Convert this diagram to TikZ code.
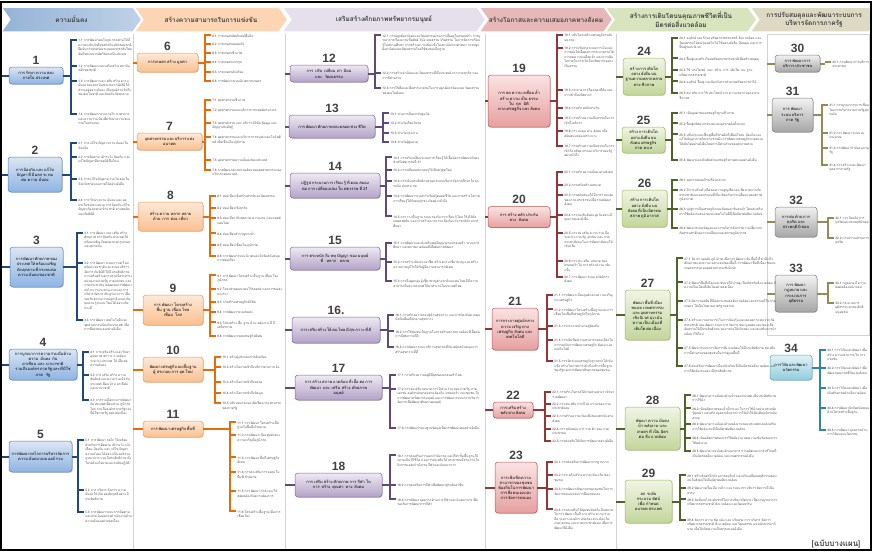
\documentclass[tikz,border=0pt]{standalone}
\usepackage{fontspec}
\setmainfont{Loma}[Script=Thai]
\setsansfont{Liberation Sans}
\usetikzlibrary{positioning, shapes.symbols, shadows}
\XeTeXlinebreaklocale "th"
\XeTeXlinebreakskip=0pt plus 1pt

\definecolor{blutop}{HTML}{DCE6F2}\definecolor{blubot}{HTML}{8EB4E3}\definecolor{bluln}{HTML}{4F81BD}\definecolor{blubr}{HTML}{1F497D}
\definecolor{orgtop}{HTML}{FDE9D9}\definecolor{orgbot}{HTML}{FAC090}\definecolor{orgln}{HTML}{F79646}\definecolor{orgbr}{HTML}{E46C0A}
\definecolor{purtop}{HTML}{EEEAF3}\definecolor{purbot}{HTML}{B3A2C7}\definecolor{purln}{HTML}{8064A2}\definecolor{purbr}{HTML}{5F497A}
\definecolor{pnktop}{HTML}{FBE3E3}\definecolor{pnkbot}{HTML}{E6A0A0}\definecolor{pnkln}{HTML}{C0504D}\definecolor{pnkbr}{HTML}{943634}
\definecolor{grntop}{HTML}{F0F5E4}\definecolor{grnbot}{HTML}{C3D69B}\definecolor{grnln}{HTML}{9BBB59}\definecolor{grnbr}{HTML}{4F6228}
\definecolor{grytop}{HTML}{F2F2F2}\definecolor{grybot}{HTML}{A6A6A6}\definecolor{gryln}{HTML}{7F7F7F}\definecolor{grybr}{HTML}{948A54}
\definecolor{teatop}{HTML}{E3F2F7}\definecolor{teabot}{HTML}{93CDDD}\definecolor{tealn}{HTML}{4BACC6}\definecolor{teabr}{HTML}{31859C}
\definecolor{hdra}{HTML}{95B3D7}\definecolor{hdrb}{HTML}{FCD5B4}\definecolor{hdrc}{HTML}{E6E0EC}
\definecolor{hdrd}{HTML}{E6B9B8}\definecolor{hdre}{HTML}{D7E4BD}\definecolor{hdrf}{HTML}{DDD9C3}
\definecolor{leafgray}{HTML}{4A4A4A}\definecolor{numgray}{HTML}{404040}

\newcommand\leaffont{\fontsize{3.2}{4.5}\selectfont}
\newcommand\boxfont{\fontsize{4}{5.2}\selectfont}
\newcommand\numfont{\sffamily\bfseries\fontsize{12}{12}\selectfont}
\newcommand\hdrfont{\bfseries\fontsize{6.5}{8}\selectfont}

\newcommand\branch[5]{%
  \draw[#2] (#1.east) -- (#3,0 |- #1.east);
  \foreach \y/\txt [count=\i] in {#5} {
    \ifnum\i=1 \xdef\ytop{\y}\fi
    \xdef\ybot{\y}
    \draw[#2] (#3,\y) -- ++(6,0) node[leaf, text width=#4] (#1-\i) {\txt};
  }
  \draw[#2, line cap=rect] (#3,\ytop) -- (#3,\ybot);
}

\begin{document}
\begin{tikzpicture}[x=1pt, y=-1pt, label distance=2pt,
    hdr/.style={signal, signal to=east, signal from=west, signal pointer angle=110,
      minimum height=25, draw=white, line width=1.5pt, font=\hdrfont, text=numgray, align=center, inner sep=1pt},
    bx/.style={rounded corners=3pt, line width=0.5pt, align=center, font=\boxfont, inner sep=1pt,
      drop shadow={opacity=0.3, shadow xshift=0.8pt, shadow yshift=-0.8pt}},
    bbox/.style={bx, draw=bluln, top color=blutop, bottom color=blubot},
    obox/.style={bx, draw=orgln, top color=orgtop, bottom color=orgbot},
    pbox/.style={bx, draw=purln, top color=purtop, bottom color=purbot},
    rbox/.style={bx, draw=pnkln, top color=pnktop, bottom color=pnkbot},
    gbox/.style={bx, draw=grnln, top color=grntop, bottom color=grnbot},
    kbox/.style={bx, draw=gryln, top color=grytop, bottom color=grybot},
    tbox/.style={bx, draw=tealn, top color=teatop, bottom color=teabot},
    bbr/.style={draw=blubr, line width=2pt},
    obr/.style={draw=orgbr, line width=2pt},
    pbr/.style={draw=purbr, line width=2pt},
    rbr/.style={draw=pnkbr, line width=2pt},
    gbr/.style={draw=grnbr, line width=2pt},
    kbr/.style={draw=grybr, line width=2pt},
    tbr/.style={draw=teabr, line width=2pt},
    leaf/.style={anchor=north west, yshift=2.6pt, inner sep=0.3pt, font=\leaffont, text=leafgray, align=left},
    num/.style={font=\numfont, text=numgray, inner sep=0pt},
    sepl/.style={draw=gray!35, line width=0.6pt}
  ]
\useasboundingbox (0,0) rectangle (872,552);

\node[hdr, fill=hdrf, minimum width=128] (h6) at (814,19.5) {การปรับสมดุลและพัฒนาระบบการ\\บริหารจัดการภาครัฐ};
\node[hdr, fill=hdre, minimum width=152] (h5) at (681,19.5) {สร้างการเติบโตบนคุณภาพชีวิตที่เป็น\\มิตรต่อสิ่งแวดล้อม};
\node[hdr, fill=hdrd, minimum width=134] (h4) at (546,19.5) {สร้างโอกาสและความเสมอภาคทางสังคม};
\node[hdr, fill=hdrc, minimum width=204] (h3) at (384,19.5) {เสริมสร้างศักยภาพทรัพยากรมนุษย์};
\node[hdr, fill=hdrb, minimum width=154] (h2) at (211,19.5) {สร้างความสามารถในการแข่งขัน};
\node[hdr, left color=hdra, right color=hdra!60, minimum width=141] (h1) at (71.5,19.5) {ความมั่นคง};

\draw[sepl] (133,34) -- (133,549);
\draw[sepl] (285,34) -- (285,549);
\draw[sepl] (485,34) -- (485,549);
\draw[sepl] (616,34) -- (616,549);
\draw[sepl] (767,34) rectangle (869,335);

\node[bbox, minimum width=54, minimum height=17, text width=48, label={[num]above:1}] (b1) at (36,75.5) {การรักษาความสงบ\\ภายในประเทศ};
\node[bbox, minimum width=54, minimum height=35, text width=48, label={[num]above:2}] (b2) at (35,174.5) {การป้องกันและแก้ไข\\ปัญหาที่มีผลกระทบ\\ต่อความมั่นคง};
\node[bbox, minimum width=53, minimum height=40, text width=48, label={[num]above:3}] (b3) at (36.5,267) {การพัฒนาศักยภาพของ\\ประเทศให้พร้อมเผชิญ\\ภัยคุกคามที่กระทบต่อ\\ความมั่นคงของชาติ};
\node[bbox, minimum width=68, minimum height=31, text width=62, label={[num]above:4}] (b4) at (43,364.5) {การบูรณาการความร่วมมือด้าน\\ความมั่นคงกับอาเซียนและนานาชาติ\\รวมถึงองค์กรภาครัฐและที่มิใช่\\ภาครัฐ};
\node[bbox, minimum width=63, minimum height=31, text width=58, label={[num]above:5}] (b5) at (40.5,456.5) {การพัฒนากลไกการบริหารจัดการ\\ความมั่นคงแบบองค์รวม};

\node[obox, minimum width=61, minimum height=19, text width=56, label={[num]above:6}] (b6) at (167.5,62.5) {การเกษตรสร้างมูลค่า};
\node[obox, minimum width=65, minimum height=17, text width=60, label={[num]above:7}] (b7) at (169.5,141.5) {อุตสาหกรรมและบริการแห่ง\\อนาคต};
\node[obox, minimum width=65, minimum height=29, text width=60, label={[num]above:8}] (b8) at (170.5,216.5) {สร้างความหลากหลาย\\ด้านการท่องเที่ยว};
\node[obox, minimum width=60, minimum height=30, text width=55, label={[num]above:9}] (b9) at (173,310) {การพัฒนาโครงสร้าง\\พื้นฐาน เชื่อมไทย\\เชื่อมโลก};
\node[obox, minimum width=60, minimum height=25, text width=56, label={[num]above:10}] (b10) at (173,369.5) {พัฒนาเศรษฐกิจบนพื้นฐาน\\ผู้ประกอบการยุคใหม่};
\node[obox, minimum width=60, minimum height=16, text width=56, label={[num]above:11}] (b11) at (173,429) {การพัฒนาเศรษฐกิจพื้นที่};

\node[pbox, minimum width=78, minimum height=17, text width=72, label={[num]above:12}] (b12) at (329,73.5) {การปรับเปลี่ยนค่านิยม\\และวัฒนธรรม};
\node[pbox, minimum width=86, minimum height=23, text width=80, label={[num]above:13}] (b13) at (332,126.5) {การพัฒนาศักยภาพคนตลอดช่วงชีวิต};
\node[pbox, minimum width=90, minimum height=25, text width=84, label={[num]above:14}] (b14) at (335,185.5) {ปฏิรูปกระบวนการเรียนรู้ที่ตอบสนอง\\ต่อการเปลี่ยนแปลงในศตวรรษที่ 21};
\node[pbox, minimum width=90, minimum height=23, text width=84, label={[num]above:15}] (b15) at (335,258.5) {การตระหนักถึงพหุปัญญาของมนุษย์\\ที่หลากหลาย};
\node[pbox, minimum width=88, minimum height=26, text width=82, label={[num]above:16.}] (b16) at (336,330) {การเสริมสร้างให้คนไทยมีสุขภาวะที่ดี};
\node[pbox, minimum width=87, minimum height=25, text width=82, label={[num]above:17}] (b17) at (338.5,387.5) {การสร้างสภาพแวดล้อมที่เอื้อต่อการ\\พัฒนาและเสริมสร้างศักยภาพ\\มนุษย์};
\node[pbox, minimum width=87, minimum height=24, text width=82, label={[num]above:18}] (b18) at (338.5,485) {การเสริมสร้างศักยภาพการกีฬาใน\\การสร้างคุณค่าทางสังคม};

\node[rbox, minimum width=62, minimum height=52, text width=56, label={[num]above:19}] (b19) at (519,101) {การลดความเหลื่อมล้ำ\\สร้างความเป็นธรรม\\ในทุกมิติ\\ทางเศรษฐกิจและสังคม};
\node[rbox, minimum width=62, minimum height=21, text width=56, label={[num]above:20}] (b20) at (519,217) {การสร้างหลักประกัน\\ทางสังคม};
\node[rbox, minimum width=46, minimum height=42, text width=42, label={[num]above:21}] (b21) at (515,329) {การกระจายศูนย์กลาง\\ความเจริญทาง\\เศรษฐกิจ สังคม และ\\เทคโนโลยี};
\node[rbox, minimum width=40, minimum height=16, text width=36, label={[num]above:22}] (b22) at (513,410) {การเสริมสร้าง\\พลังทางสังคม};
\node[rbox, minimum width=42, minimum height=51, text width=38, label={[num]above:23}] (b23) at (516,487.5) {การเพิ่มขีดความ\\สามารถของชุมชน\\ท้องถิ่นในการพัฒนา\\การพึ่งตนเองและ\\การจัดการตนเอง};

\node[gbox, minimum width=42, minimum height=37, text width=38, label={[num]above:24}] (b24) at (644,76.5) {สร้างการเติบโต\\อย่างยั่งยืนบน\\ฐานความหลากหลาย\\ทางชีวภาพ};
\node[gbox, minimum width=43, minimum height=26, text width=39, label={[num]above:25}] (b25) at (643.5,140) {สร้างการเติบโต\\อย่างยั่งยืนบน\\สังคมเศรษฐกิจ\\ภาคทะเล};
\node[gbox, minimum width=45, minimum height=37, text width=41, label={[num]above:26}] (b26) at (644.5,208.5) {สร้างการเติบโต\\อย่างยั่งยืนบน\\สังคมที่เป็นมิตรต่อ\\สภาพภูมิอากาศ};
\node[gbox, minimum width=45, minimum height=50, text width=41, label={[num]above:27}] (b27) at (647.5,315) {พัฒนาพื้นที่เมือง\\ชนบท เกษตรกรรม\\และอุตสาหกรรม\\เชิงนิเวศ มุ่งเน้น\\ความเป็นเมืองที่\\เติบโตต่อเนื่อง};
\node[gbox, minimum width=55, minimum height=43, text width=50, label={[num]above:28}] (b28) at (652.5,428.5) {พัฒนาความมั่นคง\\น้ำ พลังงาน และ\\เกษตรที่เป็นมิตร\\ต่อสิ่งแวดล้อม};
\node[gbox, minimum width=47, minimum height=43, text width=43, label={[num]above:29}] (b29) at (648.5,501.5) {ยกระดับ\\กระบวนทัศน์\\เพื่อกำหนด\\อนาคตประเทศ};

\node[kbox, minimum width=45, minimum height=17, text width=41, label={[num]above:30}] (b30) at (797.5,63.5) {การพัฒนาการ\\บริการประชาชน};
\node[kbox, minimum width=41, minimum height=34, text width=37, label={[num]above:31}] (b31) at (792.5,115) {การพัฒนา\\ระบบบริหาร\\ภาครัฐ};
\node[kbox, minimum width=42, minimum height=30, text width=38, label={[num]above:32}] (b32) at (796,222) {การต่อต้านการ\\ทุจริตและ\\ประพฤติมิชอบ};
\node[kbox, minimum width=42, minimum height=37, text width=38, label={[num]above:33}] (b33) at (796,293.5) {การพัฒนา\\กฎหมายและ\\กระบวนการ\\ยุติธรรม};
\node[tbox, minimum width=42, minimum height=25, text width=38, label={[num]above:34}] (b34) at (791,367.5) {การวิจัยและพัฒนา\\นวัตกรรม};

\foreach \b in {b1,b2,b3,b4,b5} \draw[bbr] (\b.west) -- (2,0 |- \b.west);
\foreach \b in {b6,b7,b8,b9,b10,b11} \draw[obr] (\b.west) -- (133,0 |- \b.west);
\foreach \b in {b12,b13,b14,b15,b16,b17,b18} \draw[pbr] (\b.west) -- (285,0 |- \b.west);
\foreach \b in {b19,b20,b21,b22,b23} \draw[rbr] (\b.west) -- (485,0 |- \b.west);
\foreach \b in {b24,b25,b26,b27,b28,b29} \draw[gbr] (\b.west) -- (616,0 |- \b.west);
\foreach \b in {b30,b31,b32,b33} \draw[kbr] (\b.west) -- (767,0 |- \b.west);

\branch{b1}{bbr}{71}{54}{40/{1.1 การพัฒนาคนในทุกภาคส่วนให้มีความจงรักภักดีต่อสถาบันหลักของชาติ ยึดมั่นการปกครองระบอบประชาธิปไตยอันมีพระมหากษัตริย์ทรงเป็นประมุข}, 66/{1.2 การพัฒนาและเสริมสร้างสถาบันหลักของชาติ}, 81/{1.3 การพัฒนาและเสริมสร้างความมั่นคงของสถาบันพระมหากษัตริย์ให้ดำรงอยู่อย่างมั่นคง เป็นศูนย์รวมจิตใจของคนในชาติ และป้องกันภัยคุกคาม}, 114/{1.4 การพัฒนาระบบ กลไก มาตรการ และความร่วมมือเพื่อรักษาความสงบภายในประเทศ}}
\branch{b2}{bbr}{71}{54}{143/{2.1 การแก้ไขปัญหาความมั่นคงในปัจจุบัน}, 157/{2.2 การติดตาม เฝ้าระวัง ป้องกัน และแก้ไขปัญหาที่อาจอุบัติขึ้นใหม่}, 179/{2.3 การแก้ไขปัญหาความไม่สงบในจังหวัดชายแดนภาคใต้อย่างยั่งยืน}, 200/{2.4 การรักษาความมั่นคงและผลประโยชน์ทางทะเล การป้องกันแก้ไขปัญหาภัยคุกคามข้ามชาติ ยาเสพติด และภัยพิบัติ}}
\branch{b3}{bbr}{77}{48}{233/{3.1 การพัฒนาและเสริมสร้างศักยภาพการป้องกันประเทศให้พร้อมเผชิญภัยคุกคามทุกรูปแบบและทุกระดับ}, 263/{3.2 การพัฒนาระบบการเตรียมพร้อมแห่งชาติและระบบบริหารจัดการภัยพิบัติให้มีประสิทธิภาพ การเสริมสร้างความร่วมมือระหว่างหน่วยงานภาครัฐ ภาคเอกชน และภาคประชาชน ตลอดจนการพัฒนากลไกการประสานงานและการบริหารจัดการเชิงบูรณาการ เพื่อรองรับสถานการณ์ฉุกเฉินและภัยคุกคามรูปแบบใหม่ได้อย่างทันท่วงที}, 320/{3.3 การพัฒนาเทคโนโลยีและอุตสาหกรรมป้องกันประเทศ เพื่อการพึ่งพาตนเองอย่างยั่งยืน}}
\branch{b4}{bbr}{83}{42}{352/{4.1 การเสริมสร้างและรักษาดุลยภาพสภาวะแวดล้อมระหว่างประเทศ ให้เอื้อต่อความมั่นคง}, 375/{4.2 การเสริมสร้างความสัมพันธ์และความร่วมมือกับประเทศเพื่อนบ้าน อาเซียน และนานาชาติ}, 400/{4.3 การร่วมมือทางการพัฒนากับประเทศเพื่อนบ้าน ภูมิภาค โลก รวมถึงองค์กรภาครัฐและที่มิใช่ภาครัฐ อย่างต่อเนื่อง}}
\branch{b5}{bbr}{78}{47}{440/{5.1 การพัฒนากลไกให้พร้อมสำหรับการติดตาม เฝ้าระวัง แจ้งเตือน ป้องกัน และแก้ไขปัญหาความมั่นคงได้อย่างเป็นองค์รวม บูรณาการ และมีประสิทธิภาพ ทั้งในระดับนโยบายและระดับปฏิบัติ}, 490/{5.2 การบริหารจัดการความมั่นคงให้เกิดผลสัมฤทธิ์อย่างมีประสิทธิภาพ}, 512/{5.3 การพัฒนาระบบการติดตามและประเมินผลการดำเนินงานด้านความมั่นคงอย่างต่อเนื่อง}}

\branch{b6}{obr}{205}{70}{35/{6.1 การเกษตรอัตลักษณ์พื้นถิ่น}, 44/{6.2 การเกษตรปลอดภัย}, 53/{6.3 การเกษตรชีวภาพ}, 62/{6.4 การเกษตรแปรรูป}, 72/{6.5 การเกษตรอัจฉริยะ}, 81/{6.6 การพัฒนาระบบนิเวศการเกษตร}}
\branch{b7}{obr}{205}{70}{100/{7.1 อุตสาหกรรมชีวภาพ}, 110/{7.2 อุตสาหกรรมและบริการการแพทย์ครบวงจร}, 123/{7.3 อุตสาหกรรมและบริการดิจิทัล ข้อมูล และปัญญาประดิษฐ์}, 137/{7.4 อุตสาหกรรมและบริการการขนส่งและโลจิสติกส์ เพื่อเชื่อมโยงภูมิภาค}, 160/{7.5 อุตสาหกรรมความมั่นคงของประเทศ}, 170/{7.6 การพัฒนาสภาพแวดล้อมของอุตสาหกรรมและบริการแห่งอนาคต}}
\branch{b8}{obr}{210}{65}{196/{8.1 ท่องเที่ยวเชิงสร้างสรรค์และวัฒนธรรม}, 208/{8.2 ท่องเที่ยวเชิงธุรกิจ}, 218/{8.3 ท่องเที่ยวเชิงสุขภาพ ความงาม และแพทย์แผนไทย}, 233/{8.4 ท่องเที่ยวสำราญทางน้ำ}, 245/{8.5 ท่องเที่ยวเชื่อมโยงภูมิภาค}, 256/{8.6 การพัฒนาระบบนิเวศและปัจจัยสนับสนุนการท่องเที่ยว}}
\branch{b9}{obr}{210}{65}{275/{9.1 การพัฒนาโครงสร้างพื้นฐานเชื่อมโยงภูมิภาค}, 289/{9.2 โครงข่ายคมนาคมไร้รอยต่อ และการขนส่งทางราง}, 302/{9.3 การสร้างเศรษฐกิจดิจิทัล}, 312/{9.4 การพัฒนาระบบขนส่ง}, 322/{9.5 โครงสร้างพื้นฐานด้านพลังงานที่มีเสถียรภาพ}, 336/{9.6 การพัฒนาเขตเศรษฐกิจพิเศษ}}
\branch{b10}{obr}{215}{60}{357/{10.1 สร้างผู้ประกอบการอัจฉริยะ}, 367/{10.2 สร้างโอกาสเข้าถึงบริการทางการเงิน}, 382/{10.3 สร้างโอกาสเข้าถึงตลาด}, 393/{10.4 สร้างโอกาสเข้าถึงข้อมูล}, 403/{10.5 ปรับบทบาทและเพิ่มขีดความสามารถของภาครัฐ}}
\branch{b11}{obr}{230}{45}{422/{11.1 การพัฒนาโครงสร้างพื้นฐานในพื้นที่เป้าหมาย}, 435/{11.2 การพัฒนาเมืองศูนย์กลางความเจริญในภูมิภาค}, 457/{11.3 การพัฒนาพื้นที่เศรษฐกิจพิเศษ}, 472/{11.4 การส่งเสริมการลงทุนในพื้นที่เป้าหมาย}, 491/{11.5 การพัฒนากำลังคนให้สอดคล้องกับความต้องการ}, 511/{11.6 โครงสร้างพื้นฐานเพื่อการเชื่อมโยง}}

\branch{b12}{pbr}{375}{98}{35/{12.1 การปลูกฝังค่านิยมและวัฒนธรรมผ่านการเลี้ยงดูในครอบครัว การบูรณาการเรื่องความซื่อสัตย์ วินัย คุณธรรม จริยธรรม ในการจัดการเรียนรู้ในสถานศึกษา การสร้างความเข้มแข็งในสถาบันทางศาสนา การปลูกฝังค่านิยมและวัฒนธรรมโดยใช้ชุมชนเป็นฐาน}, 73/{12.2 การสร้างค่านิยมและวัฒนธรรมที่พึงประสงค์จากภาคธุรกิจ และการมีส่วนร่วม}, 88/{12.3 การใช้สื่อและสื่อสารมวลชนในการปลูกฝังค่านิยมและวัฒนธรรมของคนในสังคม}}
\branch{b13}{pbr}{383}{90}{113/{13.1 ช่วงการตั้งครรภ์ปฐมวัย}, 123/{13.2 ช่วงวัยเรียนวัยรุ่น}, 133/{13.3 ช่วงวัยแรงงาน}, 142/{13.4 ช่วงวัยผู้สูงอายุ}}
\branch{b14}{pbr}{386}{87}{157/{14.1 การปรับเปลี่ยนระบบการเรียนรู้ให้เอื้อต่อการพัฒนาทักษะสำหรับศตวรรษที่ 21}, 170/{14.2 การเปลี่ยนบทบาทครูให้เป็นครูยุคใหม่}, 181/{14.3 การเพิ่มประสิทธิภาพของระบบบริหารจัดการศึกษาในทุกระดับ ทุกประเภท}, 196/{14.4 การพัฒนาระบบการเรียนรู้ตลอดชีวิต และการสร้างโอกาสการเรียนรู้ให้กับคนทุกช่วงวัยอย่างทั่วถึง}, 216/{14.5 การวางพื้นฐานระบบรองรับการเรียนรู้โดยใช้ดิจิทัลแพลตฟอร์ม และการสร้างความร่วมมือกับนานาชาติด้านการศึกษา}}
\branch{b15}{pbr}{386}{87}{243/{15.1 การพัฒนาและส่งเสริมพหุปัญญาผ่านครอบครัว ระบบการศึกษา และสภาพแวดล้อมที่เอื้อต่อการพัฒนา}, 262/{15.2 การสร้างเส้นทางอาชีพ สร้างความเชี่ยวชาญ และสร้างความภาคภูมิใจให้กับผู้มีความสามารถพิเศษ}, 281/{15.3 การดึงดูดกลุ่มผู้เชี่ยวชาญต่างชาติและคนไทยที่มีความสามารถในต่างประเทศให้มาทำงานในประเทศไทย}}
\branch{b16}{pbr}{388}{85}{315/{16.1 การสร้างความรอบรู้ด้านสุขภาวะ และการป้องกันควบคุมปัจจัยเสี่ยงที่คุกคามสุขภาวะ}, 331/{16.2 การใช้ชุมชนเป็นฐานในการสร้างสภาพแวดล้อมที่เอื้อต่อการมีสุขภาวะที่ดี}, 347/{16.3 การพัฒนาระบบบริการสุขภาพที่ทันสมัยสนับสนุนการสร้างสุขภาวะที่ดี}}
\branch{b17}{pbr}{390}{83}{375/{17.1 การสร้างความอยู่ดีมีสุขของครอบครัวไทย}, 389/{17.2 การส่งเสริมบทบาทการมีส่วนร่วมของภาครัฐ ภาคเอกชน องค์กรปกครองส่วนท้องถิ่น ครอบครัว และชุมชน ในการพัฒนาทรัพยากรมนุษย์ และการพัฒนาระบบการบริหารจัดการเพื่อพัฒนาศักยภาพมนุษย์}, 428/{17.3 การพัฒนาระบบฐานข้อมูลเพื่อการพัฒนาคนอย่างยั่งยืน}}
\branch{b18}{pbr}{390}{83}{455/{18.1 การส่งเสริมการออกกำลังกาย และกีฬาขั้นพื้นฐานให้กลายเป็นวิถีชีวิต และการส่งเสริมให้ประชาชนมีส่วนร่วมในกิจกรรมออกกำลังกาย กีฬาและนันทนาการ}, 485/{18.2 การส่งเสริมการกีฬาเพื่อพัฒนาสู่ระดับอาชีพ}, 499/{18.3 การพัฒนาบุคลากรด้านการกีฬาและนันทนาการเพื่อรองรับการพัฒนาการกีฬา}}

\branch{b19}{rbr}{557}{50}{35/{19.1 ปรับโครงสร้างเศรษฐกิจระดับมหภาค}, 48/{19.2 การปรับปรุงระบบการเงินและการคลังให้เอื้อต่อการกระจายรายได้ การลดความเหลื่อมล้ำ และการเพิ่มโอกาสในการเข้าถึงทรัพยากรอย่างเป็นธรรม}, 90/{19.3 กระจายการถือครองที่ดินและการเข้าถึงทรัพยากร}, 108/{19.4 การสร้างหลักประกัน}, 118/{19.5 การสร้างความเป็นธรรมในการเข้าถึงบริการ}, 131/{19.6 การลงทุนทางสังคมเพื่อสนับสนุนกลุ่มเปราะบาง}, 146/{19.7 การสร้างความเป็นธรรมในการเข้าถึงทรัพยากรและบริการของรัฐอย่างทั่วถึง}}
\branch{b20}{rbr}{557}{50}{172/{20.1 การสร้างความมั่นคงทางสังคม}, 185/{20.2 การเสริมสร้างบทบาท}, 195/{20.3 การสนับสนุนให้มีการรวมกลุ่มของภาคประชาชนเพื่อร่วมพัฒนาสังคม}, 215/{20.4 การรองรับสังคมสูงวัยอย่างมีคุณภาพและยั่งยืน}, 233/{20.5 การส่งเสริมความร่วมมือระหว่างภาครัฐ เอกชน และภาคประชาสังคมในการพัฒนาสังคมให้เข้มแข็ง}, 261/{20.6 การส่งเสริมบทบาทของครอบครัวในการสร้างความเข้มแข็ง}, 277/{20.7 การพัฒนาระบบสวัสดิการสังคม}}
\branch{b21}{rbr}{547}{60}{295/{21.1 การพัฒนาเมืองศูนย์กลางความเจริญทางเศรษฐกิจ}, 309/{21.2 การพัฒนาโครงสร้างพื้นฐานและการเชื่อมโยงพื้นที่เศรษฐกิจในภูมิภาค}, 326/{21.3 การกระจายอำนาจสู่ท้องถิ่น}, 340/{21.4 การเพิ่มขีดความสามารถของเมืองในการรองรับการพัฒนาเศรษฐกิจ สังคม และเทคโนโลยี}, 361/{21.5 การจัดระบบเศรษฐกิจฐานรากให้เข้มแข็ง สร้างโอกาสการเข้าถึงบริการพื้นฐานของรัฐและการพัฒนาศักยภาพของชุมชน}}
\branch{b22}{rbr}{545}{62}{392/{22.1 การสร้างโอกาสให้ภาคส่วนต่างๆ เข้ามาร่วมพัฒนา}, 404/{22.2 การส่งเสริมการมีส่วนร่วมของภาคประชาสังคม}, 416/{22.3 การสร้างความเข้มแข็งของสถาบันทางสังคม}, 429/{22.4 การสนับสนุนการรวมตัวของภาคประชาชน}, 441/{22.5 การส่งเสริมให้เกิดการพัฒนาอย่างยั่งยืน}}
\branch{b23}{rbr}{547}{60}{462/{23.1 การส่งเสริมการพัฒนาจากฐานราก}, 475/{23.2 การเสริมสร้างความเข้มแข็งของชุมชน}, 489/{23.3 การพัฒนาศักยภาพของชุมชนในการจัดการตนเองและการพึ่งพาตนเอง}, 509/{23.4 การส่งเสริมให้ชุมชนท้องถิ่นมีบทบาทในการพัฒนาพื้นที่ การสร้างความร่วมมือระหว่างองค์กรปกครองส่วนท้องถิ่น ภาคเอกชน และภาคประชาสังคม เพื่อการพัฒนาที่ยั่งยืน}}

\branch{b24}{gbr}{672}{84}{38/{24.1 อนุรักษ์และรักษาทรัพยากรธรรมชาติ สิ่งแวดล้อม และวัฒนธรรมให้คนรุ่นต่อไปได้ใช้อย่างยั่งยืน มีสมดุล และการฟื้นฟูระบบนิเวศ}, 58/{24.2 ฟื้นฟูและสร้างใหม่ทรัพยากรธรรมชาติเพื่อสร้างสมดุล}, 70/{24.3 ใช้ประโยชน์และสร้างการเติบโตบนฐานทรัพยากรธรรมชาติ}, 81/{24.4 อนุรักษ์ ฟื้นฟู และป้องกันการทำลายทรัพยากรป่าไม้}, 93/{24.5 ส่งเสริมการใช้ประโยชน์จากความหลากหลายทางชีวภาพ}}
\branch{b25}{gbr}{672}{84}{113/{25.1 เพิ่มมูลค่าของเศรษฐกิจฐานชีวภาพ}, 123/{25.2 ฟื้นฟูทรัพยากรทางทะเลและชายฝั่งทั้งระบบ}, 134/{25.3 ปรับปรุงและฟื้นฟูพื้นที่ชายฝั่งที่เสื่อมโทรม ป้องกันและแก้ไขปัญหาการกัดเซาะชายฝั่ง การพัฒนาเศรษฐกิจภาคทะเลให้เติบโตอย่างยั่งยืนโดยการมีส่วนร่วมของทุกภาคส่วน}, 160/{25.4 พัฒนาและเพิ่มสัดส่วนเศรษฐกิจภาคทะเลอย่างยั่งยืน}}
\branch{b26}{gbr}{672}{84}{180/{26.1 ลดการปล่อยก๊าซเรือนกระจก}, 190/{26.2 มีการปรับตัวเพื่อลดความสูญเสียและเสียหายจากภัยธรรมชาติและผลกระทบที่เกี่ยวข้องกับการเปลี่ยนแปลงสภาพภูมิอากาศ}, 209/{26.3 มุ่งสู่การเป็นเศรษฐกิจและสังคมคาร์บอนต่ำ โดยส่งเสริมการใช้พลังงานสะอาดและเทคโนโลยีที่เป็นมิตรต่อสิ่งแวดล้อม}, 228/{26.4 พัฒนาระบบข้อมูลและการบริหารจัดการความเสี่ยงจากภัยธรรมชาติและการเปลี่ยนแปลงสภาพภูมิอากาศ}}
\branch{b27}{gbr}{677}{93}{258/{27.1 จัดทำแผนผังภูมินิเวศเพื่อการพัฒนาเชิงพื้นที่ที่คำนึงถึงศักยภาพและความเหมาะสมของพื้นที่ การพัฒนาพื้นที่เมือง ชนบท เกษตรกรรมและอุตสาหกรรมเชิงนิเวศ}, 282/{27.2 พัฒนาพื้นที่เมืองและชนบทให้น่าอยู่ เป็นมิตรกับสิ่งแวดล้อม มีความเป็นเมืองที่เติบโตอย่างต่อเนื่อง}, 301/{27.3 จัดการมลพิษที่มีผลกระทบต่อสิ่งแวดล้อมและสารเคมีในภาคเกษตร ให้เป็นไปตามมาตรฐานสากล}, 320/{27.4 สร้างความสามารถในการป้องกันและลดผลกระทบจากภัยธรรมชาติ และพัฒนาระบบการจัดการขยะมูลฝอยและของเสียอันตรายให้มีประสิทธิภาพ ลดการก่อให้เกิดขยะ และส่งเสริมการนำกลับมาใช้ใหม่}, 348/{27.5 พัฒนาระบบการจัดการสิ่งแวดล้อมให้มีประสิทธิภาพ ส่งเสริมการมีส่วนร่วมของชุมชนในการดูแลพื้นที่}, 366/{27.6 ส่งเสริมการพัฒนาเมืองอัจฉริยะที่เป็นมิตรต่อสิ่งแวดล้อม และการใช้พลังงานอย่างมีประสิทธิภาพ}}
\branch{b28}{gbr}{685}{85}{395/{28.1 พัฒนาความมั่นคงด้านน้ำของประเทศ เพิ่มประสิทธิภาพการใช้น้ำ}, 408/{28.2 เพิ่มผลิตภาพของน้ำทั้งระบบ ในการใช้น้ำอย่างประหยัด รู้คุณค่า และสร้างมูลค่าเพิ่มจากการใช้น้ำให้ทัดเทียมกับระดับสากล}, 424/{28.3 พัฒนาความมั่นคงด้านพลังงานของประเทศและส่งเสริมการใช้พลังงานที่เป็นมิตรต่อสิ่งแวดล้อม}, 438/{28.4 เพิ่มผลิตภาพของการใช้พลังงาน ลดความเข้มข้นของการใช้พลังงาน}, 451/{28.5 พัฒนาความมั่นคงด้านอาหาร การผลิตและการบริโภคที่เป็นมิตรต่อสิ่งแวดล้อม และเกษตรกรรมยั่งยืน}}
\branch{b29}{gbr}{680}{90}{475/{29.1 สร้างจิตสำนึกด้านการอนุรักษ์ และปรับเปลี่ยนพฤติกรรมของคนในสังคมให้เป็นมิตรต่อสิ่งแวดล้อม}, 488/{29.2 พัฒนาเครื่องมือ กลไก และระบบการบริหารจัดการที่เป็นธรรม}, 499/{29.3 จัดตั้งกลไกระดับชาติในการบริหารจัดการ เพื่อการบูรณาการทรัพยากรธรรมชาติ สิ่งแวดล้อม และวัฒนธรรม}, 520/{29.4 จัดการความขัดแย้งและปรับปรุงการบริหารจัดการทรัพยากรธรรมชาติ สิ่งแวดล้อม และวัฒนธรรม บนหลักธรรมาภิบาล เพื่อให้เกิดความเป็นธรรมและยั่งยืน}}

\branch{b30}{kbr}{825}{37}{62/{30.1 การพัฒนาการบริการประชาชน}}
\branch{b31}{kbr}{822}{40}{105/{31.1 การบูรณาการการเชื่อมโยงการบริหารงานภาครัฐทุกระดับ}, 133/{31.2 การพัฒนาระบบงบประมาณ}, 148/{31.3 การพัฒนากำลังคนภาครัฐ}, 165/{31.4 การสร้างและพัฒนาบุคลากรภาครัฐ}}
\branch{b32}{kbr}{828}{34}{218/{32.1 การป้องกันการทุจริตและประพฤติมิชอบ}, 238/{32.2 การปราบปรามการทุจริต}}
\branch{b33}{kbr}{828}{34}{283/{33.1 กฎหมายมีความสอดคล้องเหมาะสม}, 303/{33.2 กระบวนการยุติธรรมเคารพสิทธิมนุษยชน}}
\branch{b34}{tbr}{820}{42}{350/{34.1 การวิจัยและพัฒนาเพื่อสร้างความสามารถในการแข่งขัน}, 368/{34.2 การวิจัยและพัฒนาเพื่อพัฒนาคุณภาพชีวิตและสังคม}, 388/{34.3 การวิจัยและพัฒนาเพื่อเพิ่มศักยภาพด้านสิ่งแวดล้อม}, 408/{34.4 การพัฒนาปัจจัยสนับสนุนด้านโครงสร้างพื้นฐาน}, 430/{34.5 การพัฒนาบุคลากรด้านการวิจัยและนวัตกรรม}}

\node[font=\bfseries\fontsize{8}{9}\selectfont, text=numgray] (note) at (836,544) {[ฉบับบางแผน]};
\draw[line width=1.5pt] (1,2) rectangle (871,550);
\end{tikzpicture}
\end{document}
